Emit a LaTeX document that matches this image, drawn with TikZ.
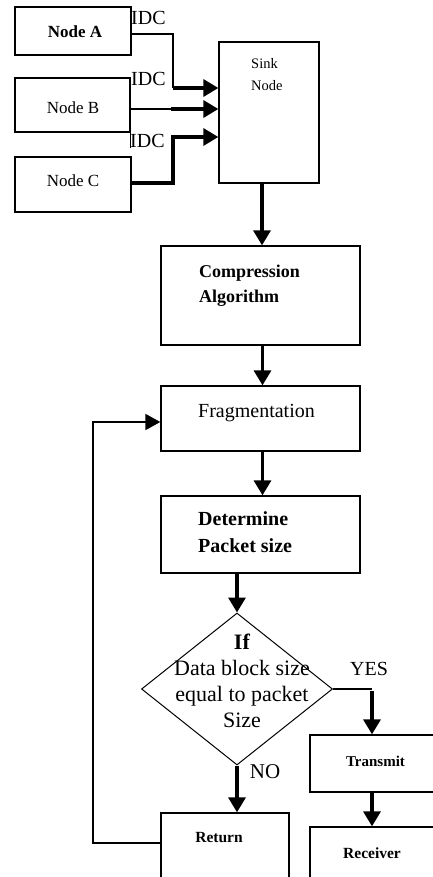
\documentclass[tikz,border=0pt]{standalone}
\usepackage{fontspec}
\setmainfont{Liberation Serif}
\usetikzlibrary{arrows.meta,shapes.geometric}
\tikzset{
  box/.style={draw, line width=1.3pt, inner sep=0pt},
  txt/.style={inner sep=0pt, align=left},
  thinline/.style={line width=1.8pt},
  thickarrow/.style={line width=3.3pt, -{Triangle[length=15pt,width=17pt]}},
  thinarrow/.style={line width=1.8pt, -{Triangle[length=15pt,width=16pt]}},
}
\begin{document}
\begin{tikzpicture}[x=1pt,y=-1pt]
\useasboundingbox (0,0) rectangle (433,877);
\clip (0,0) rectangle (433,877);
% boxes
\node[box, minimum width=116pt, minimum height=48pt] (A) at (73,31) {};
\node[box, minimum width=115pt, minimum height=54pt] (B) at (72.5,105) {};
\node[box, minimum width=116pt, minimum height=55pt] (C) at (73,184.5) {};
\node[box, minimum width=100pt, minimum height=141pt] (sink) at (269,112.5) {};
\node[box, minimum width=199pt, minimum height=99pt] (comp) at (260.5,295.5) {};
\node[box, minimum width=199pt, minimum height=65pt] (frag) at (260.5,418.5) {};
\node[box, minimum width=199pt, minimum height=77pt] (det) at (260.5,534.5) {};
\node[draw, diamond, line width=1pt, inner sep=0pt, minimum width=191pt, minimum height=152pt] (dia) at (237,689) {};
\node[box, minimum width=131pt, minimum height=57pt] (trans) at (375.5,763.5) {};
\node[box, minimum width=131pt, minimum height=70pt] (recv) at (375.5,862) {};
\node[box, minimum width=128pt, minimum height=77pt] (ret) at (225,851.5) {};
% extra edge line of Node B
\draw[line width=1.3pt] (B.south east) -- ++(0,15);
% texts
\node[txt, font=\fontsize{17}{20}\selectfont\bfseries] (tA) at (75,32) {Node A};
\node[txt, font=\fontsize{17}{20}\selectfont] (tB) at (73,108) {Node B};
\node[txt, font=\fontsize{17}{20}\selectfont] (tC) at (73,181) {Node C};
\node[txt, anchor=north west, font=\fontsize{14.5}{22}\selectfont] (tS) at (251,58) {Sink\\Node};
\node[txt, anchor=north west, font=\fontsize{18}{25}\selectfont\bfseries] (tComp) at (199,265) {Compression\\Algorithm};
\node[txt, font=\fontsize{20}{24}\selectfont] (tFrag) at (256.5,413) {Fragmentation};
\node[txt, anchor=north west, font=\fontsize{20}{27}\selectfont\bfseries] (tDet) at (198,511) {Determine\\Packet size};
\node[txt, align=center, font=\fontsize{22}{26}\selectfont] (tDia) at (242,681) {\textbf{If}\\Data block size\\equal to packet\\Size};
\node[txt, font=\fontsize{15}{18}\selectfont\bfseries] (tTr) at (375.5,761) {Transmit};
\node[txt, font=\fontsize{15.5}{18}\selectfont\bfseries] (tRe) at (219,838) {Return};
\node[txt, font=\fontsize{15.5}{18}\selectfont\bfseries] (tRc) at (372,853) {Receiver};
\node[txt, anchor=west, font=\fontsize{20}{24}\selectfont] (idc1) at (131,18) {IDC};
\node[txt, anchor=west, font=\fontsize{20}{24}\selectfont] (idc2) at (131,79) {IDC};
\node[txt, anchor=west, font=\fontsize{20}{24}\selectfont] (idc3) at (130,141) {IDC};
\node[txt, font=\fontsize{20}{24}\selectfont] (yes) at (369,669) {YES};
\node[txt, font=\fontsize{21}{24}\selectfont] (no) at (265,772) {NO};
% connectors
\coordinate (a1) at (173,34);
\coordinate (a2) at (173,88);
\draw[thinline] ([yshift=-3pt]A.east) -- (a1) -- (a2);
\draw[thickarrow] (a2) -- (sink.west |- a2);
\coordinate (b1) at (171,109);
\draw[thinline] ([yshift=-4pt]B.east) -- (b1);
\draw[thickarrow] (b1) -- (sink.west |- b1);
\coordinate (c1) at (173,183);
\coordinate (c2) at (173,137);
\draw[thickarrow] ([yshift=1.5pt]C.east) -- (c1) -- (c2) -- (sink.west |- c2);
\draw[thickarrow] ([xshift=-7pt]sink.south) -- ([xshift=-7pt]sink.south |- comp.north);
\draw[thickarrow] ([xshift=2pt]comp.south) -- ([xshift=2pt]frag.north);
\draw[thickarrow] ([xshift=2pt]frag.south) -- ([xshift=2pt]det.north);
\draw[thickarrow] (det.south -| dia.north) -- (dia.north);
\coordinate (y1) at (372,689);
\draw[thinline] (dia.east) -- (y1);
\draw[thickarrow] ([yshift=-1.5pt]y1) -- (y1 |- trans.north);
\draw[thickarrow] (trans.south -| y1) -- (recv.north -| y1);
\draw[thickarrow] (dia.south) -- (dia.south |- ret.north);
\coordinate (l1) at (93,843);
\coordinate (l2) at (93,422);
\draw[thinarrow] (ret.west |- l1) -- (l1) -- (l2) -- (frag.west |- l2);
\end{tikzpicture}
\end{document}
